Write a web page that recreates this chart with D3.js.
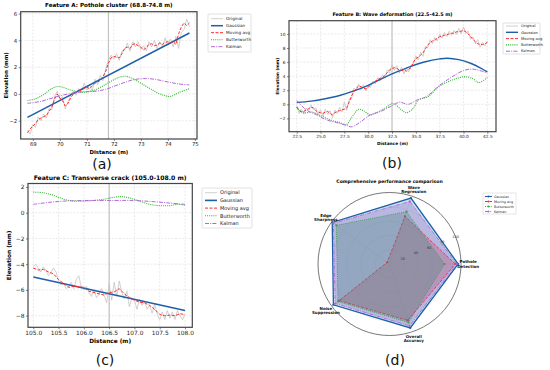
<!DOCTYPE html>
<html>
<head>
<script src="https://d3js.org/d3.v7.min.js"></script>
<style>
body { margin: 0; background: #fff; }
svg text { font-family: "DejaVu Sans", sans-serif; }
</style>
</head>
<body>
<script>
// ---------- data ----------
var seriesNames = ["Original", "Gaussian", "Moving avg", "Butterworth", "Kalman"];

// Feature A: sampled every 0.1 m from 68.8
var aStart = 68.8, aStep = 0.1;
var aOriginal = [-2.7,-3.0,-2.3,-2.5,-1.7,-2.0,-1.5,-1.8,-1.1,-1.2,
  -0.2,0.2,-0.4,-0.2,-1.1,-0.6,-0.1,0.2,-0.1,0.4,
  0.1,0.8,0.3,0.7,0.2,1.1,0.7,1.4,1.0,1.9,
  2.5,2.9,2.6,3.0,2.5,3.2,3.3,3.8,3.2,3.9,
  3.5,3.9,3.3,3.6,3.2,3.9,3.5,4.0,3.4,3.9,
  3.5,4.2,3.6,4.1,3.5,4.3,3.4,4.6,4.8,5.6,5.0];
var aMoving = [-2.9,-2.6,-2.4,-2.2,-1.9,-1.8,-1.7,-1.6,-1.3,-1.0,
  -0.4,0.0,-0.3,-0.5,-0.9,-0.7,-0.3,0.0,0.1,0.2,
  0.3,0.4,0.5,0.4,0.6,0.8,0.9,1.0,1.3,1.7,
  2.3,2.7,2.8,2.75,2.7,3.0,3.4,3.5,3.4,3.7,
  3.75,3.6,3.5,3.3,3.45,3.7,3.75,3.6,3.65,3.8,
  3.7,3.85,3.9,3.8,3.9,3.7,4.5,5.0,5.3,5.1,5.3];
var aGaussX = [68.8, 74.8];
var aGaussY = [-1.75, 4.55];
var aButterX = [68.8,69.1,69.4,69.7,69.9,70.1,70.4,70.7,71.0,71.3,71.6,71.9,72.2,72.45,72.7,73.0,73.3,73.6,73.9,74.1,74.4,74.8];
var aButterY = [-0.5,-0.35,-0.05,0.4,0.55,0.5,0.3,0.15,0.15,0.3,0.6,0.95,1.25,1.32,1.15,0.8,0.45,0.1,-0.12,-0.18,0.1,0.4];
var aKalmanX = [68.8,69.3,69.8,70.3,70.8,71.3,71.7,72.2,72.7,73.1,73.5,74.0,74.4,74.8];
var aKalmanY = [-0.7,-0.55,-0.25,0.0,0.15,0.2,0.35,0.72,1.05,1.15,1.1,0.9,0.75,0.68];

// Feature B: sampled every 0.25 m from 22.5
var bStart = 22.5, bStep = 0.25;
var bOriginal = [-0.2,-1.3,-0.7,-1.4,-0.5,-0.9,-0.1,-0.8,-0.5,-1.5,-0.8,-1.7,-0.7,-1.4,-0.9,-1.9,-0.8,-1.3,-0.4,-1.1,0.3,
  -0.9,0.7,0.8,2.3,1.9,2.9,2.1,2.8,1.9,2.7,2.4,3.3,2.9,3.8,3.3,4.2,3.7,4.9,4.4,5.6,
  4.8,5.5,4.4,5.3,4.3,5.2,4.6,5.6,5.7,6.9,6.3,7.4,6.8,8.2,8.0,9.2,8.6,9.5,9.0,10.0,
  9.4,10.2,9.6,10.4,9.8,10.5,9.9,10.8,10.0,11.0,10.1,10.4,9.3,9.6,8.6,9.2,8.1,8.8,8.3,9.0];
var bMoving = [-0.4,-0.9,-1.1,-1.0,-0.8,-0.6,-0.4,-0.5,-0.9,-1.1,-1.2,-1.3,-1.1,-1.0,-1.3,-1.5,-1.2,-1.0,-0.9,-0.8,-0.7,
  -0.5,0.3,1.2,1.8,2.3,2.6,2.5,2.3,2.2,2.4,2.8,3.0,3.3,3.5,3.7,3.8,4.1,4.5,4.9,5.1,
  5.2,5.1,4.9,4.8,4.9,4.7,5.0,5.2,6.0,6.5,6.7,7.0,7.3,7.9,8.4,8.8,9.0,9.1,9.4,9.6,
  9.7,9.8,9.9,10.0,10.1,10.1,10.3,10.3,10.4,10.5,10.3,10.0,9.6,9.2,8.9,8.6,8.5,8.5,8.6,8.8];
var bGaussX = [22.5,24,25.5,27,28.5,30,31.5,33,34.5,36,37.5,38.3,39.5,40.8,41.8,42.5];
var bGaussY = [0.25,0.45,0.8,1.25,1.9,2.7,3.7,4.6,5.4,6.05,6.45,6.55,6.35,5.8,5.15,4.6];
var bButterX = [22.5,23.2,24.1,25.0,26.0,27.0,27.7,28.3,29.0,29.5,30.2,31.0,31.8,32.6,33.5,34.0,34.7,35.25,36.3,37.4,38.8,40.0,40.9,41.6,42.5];
var bButterY = [-0.4,-1.2,-1.1,-1.6,-2.2,-2.6,-2.9,-1.8,-0.7,-0.9,-1.5,-1.1,-0.5,0.1,-0.8,-1.2,-0.6,0.6,1.1,2.5,3.45,3.9,3.7,3.1,3.8];
var bKalmanX = [22.5,23.5,24.6,25.6,26.7,27.75,28.3,29.3,30.2,31.25,32.3,33.3,34.2,35.1,36.1,37.5,38.8,40.0,40.9,41.7,42.5];
var bKalmanY = [0.55,-0.8,-1.5,-2.2,-2.6,-3.0,-3.2,-2.4,-1.5,-1.05,-0.35,0.3,0.0,0.6,1.1,2.7,3.9,4.8,5.0,4.8,4.45];

// Feature C: original every 0.05 m, moving avg every 0.1 m
var cStart = 105.0, cOrigStep = 0.05, cMovStep = 0.1;
var cOriginal = [-4.2,-4.0,-4.3,-4.6,-4.2,-4.5,-4.9,-4.6,-4.3,-4.6,
  -5.3,-5.6,-5.5,-5.9,-5.7,-5.4,-5.9,-5.2,-4.9,-5.8,
  -6.0,-5.7,-6.2,-6.5,-6.0,-6.6,-6.3,-5.9,-6.4,-7.0,
  -5.5,-6.8,-5.4,-6.5,-5.3,-6.2,-6.7,-6.1,-7.3,-6.6,
  -6.8,-7.5,-6.7,-7.2,-6.9,-7.5,-7.2,-7.8,-7.1,-7.9,
  -8.3,-7.7,-8.3,-7.6,-8.2,-7.7,-8.3,-7.6,-8.0,-8.3,-7.9];
var cMoving = [-4.3,-4.45,-4.4,-4.6,-4.75,-5.2,-5.5,-5.8,-5.7,-5.75,
  -5.8,-6.1,-6.2,-6.3,-6.4,-6.2,-6.15,-5.9,-6.3,-6.6,
  -6.8,-6.95,-7.0,-7.2,-7.5,-7.9,-8.0,-7.95,-8.0,-7.85,-7.9];
var cGaussX = [105.0, 108.0];
var cGaussY = [-5.0, -7.6];
var cButterX = [105.0,105.2,105.4,105.6,105.8,106.0,106.2,106.4,106.6,106.75,106.9,107.1,107.3,107.5,107.7,107.85,108.0];
var cButterY = [1.6,1.55,1.35,1.05,0.9,0.9,0.95,1.05,1.2,1.25,1.15,0.9,0.65,0.55,0.55,0.65,0.6];
var cKalmanX = [105.0,105.3,105.6,106.0,106.5,107.0,107.4,107.7,108.0];
var cKalmanY = [0.65,0.8,0.9,0.95,0.95,0.95,0.85,0.75,0.65];

// radar
var radarAxes = ["Pothole|Detection", "Wave|Regression", "Edge|Sharpness", "Noise|Suppression", "Overall|Accuracy"];
var radarNames = ["Gaussian", "Moving avg", "Butterworth", "Kalman"];
var radarGaussian = [96, 97, 99, 97, 94];
var radarMoving = [92, 70, 4, 87, 83];
var radarButter = [77, 77, 92, 89, 86];
var radarKalman = [94, 92, 97, 94, 91];
var radarTicks = [20, 40, 60, 80, 100];

// ---------- styles ----------
var styles = {
  "Original":    { color: "#c4c4c4", width: 0.8, dash: null },
  "Gaussian":    { color: "#1f5fa8", width: 1.6, dash: null, fill: "#48a5c6" },
  "Moving avg":  { color: "#ff2a2a", width: 1.0, dash: "3,1.5", fill: "#c8463a" },
  "Butterworth": { color: "#2fb52f", width: 1.1, dash: "1,1.1", fill: "#1f9a55" },
  "Kalman":      { color: "#b069d8", width: 1.0, dash: "4,1.2,1,1.2", fill: "#9351bf" }
};

var svg = d3.select("body").append("svg").attr("width", 550).attr("height", 370);

function pairs(xs, ys) { return xs.map(function(d, i) { return [d, ys[i]]; }); }
function grid(start, step, ys) { return ys.map(function(v, i) { return [start + i * step, v]; }); }

var clipId = 0;
function linePanel(p) {
  var g = svg.append("g");
  var x = d3.scaleLinear().domain(p.xDomain).range([p.left, p.right]);
  var y = d3.scaleLinear().domain(p.yDomain).range([p.bottom, p.top]);

  // grid
  g.selectAll(".gx").data(p.xTicks).enter().append("line")
    .attr("x1", function(d) { return x(d); }).attr("x2", function(d) { return x(d); })
    .attr("y1", p.top).attr("y2", p.bottom)
    .attr("stroke", "#dcdcdc").attr("stroke-width", 0.6).attr("stroke-dasharray", "2,1.5");
  g.selectAll(".gy").data(p.yTicks).enter().append("line")
    .attr("y1", function(d) { return y(d); }).attr("y2", function(d) { return y(d); })
    .attr("x1", p.left).attr("x2", p.right)
    .attr("stroke", "#dcdcdc").attr("stroke-width", 0.6).attr("stroke-dasharray", "2,1.5");

  // feature centre marker
  g.append("line").attr("x1", x(p.center)).attr("x2", x(p.center))
    .attr("y1", p.top).attr("y2", p.bottom)
    .attr("stroke", "#c2c2c2").attr("stroke-width", 1.2);

  clipId++;
  svg.append("clipPath").attr("id", "clip" + clipId).append("rect")
    .attr("x", p.left).attr("y", p.top).attr("width", p.right - p.left).attr("height", p.bottom - p.top);
  var lines = g.append("g").attr("clip-path", "url(#clip" + clipId + ")");

  p.series.forEach(function(s) {
    var st = styles[s.name];
    var line = d3.line().x(function(d) { return x(d[0]); }).y(function(d) { return y(d[1]); })
      .curve(s.smooth ? d3.curveCatmullRom : d3.curveLinear);
    lines.append("path").datum(s.data)
      .attr("d", line).attr("fill", "none")
      .attr("stroke", st.color).attr("stroke-width", s.name === "Gaussian" ? p.gaussW : st.width)
      .attr("stroke-dasharray", st.dash);
  });

  // axes
  var ax = g.append("g").attr("transform", "translate(0," + p.bottom + ")")
    .call(d3.axisBottom(x).tickValues(p.xTicks).tickFormat(d3.format(p.xFmt)).tickSize(2).tickPadding(1.5));
  var ay = g.append("g").attr("transform", "translate(" + p.left + ",0)")
    .call(d3.axisLeft(y).tickValues(p.yTicks).tickFormat(function(d) { return d < 0 ? "\u2212" + (-d) : d; }).tickSize(2).tickPadding(1.5));
  [ax, ay].forEach(function(a) {
    a.select(".domain").remove();
    a.selectAll("line").attr("stroke", "#333").attr("stroke-width", 0.6);
    a.selectAll("text").attr("font-size", p.tickFont).attr("fill", "#222")
      .attr("font-family", "DejaVu Sans, sans-serif");
  });

  g.append("rect").attr("x", p.left).attr("y", p.top)
    .attr("width", p.right - p.left).attr("height", p.bottom - p.top)
    .attr("fill", "none").attr("stroke", "#444").attr("stroke-width", 1.2);

  // titles
  g.append("text").attr("x", (p.left + p.right) / 2).attr("y", p.titleY)
    .attr("text-anchor", "middle").attr("font-weight", "bold").attr("font-size", p.titleFont)
    .text(p.title);
  g.append("text").attr("x", (p.left + p.right) / 2).attr("y", p.xLabelY)
    .attr("text-anchor", "middle").attr("font-weight", "bold").attr("font-size", p.labelFont)
    .text("Distance (m)");
  g.append("text").attr("transform", "translate(" + p.yLabelX + "," + ((p.top + p.bottom) / 2) + ") rotate(-90)")
    .attr("text-anchor", "middle").attr("font-weight", "bold").attr("font-size", p.labelFont)
    .text("Elevation (mm)");

  // legend
  var L = p.legend;
  g.append("rect").attr("x", L.x).attr("y", L.y).attr("width", L.w).attr("height", L.h)
    .attr("fill", "#fff").attr("stroke", "#ccc").attr("stroke-width", 0.6).attr("rx", 1);
  seriesNames.forEach(function(n, i) {
    var st = styles[n];
    var ry = L.y + L.first + i * L.gap;
    g.append("line").attr("x1", L.x + 3).attr("x2", L.x + 3 + L.len).attr("y1", ry).attr("y2", ry)
      .attr("stroke", st.color).attr("stroke-width", n === "Gaussian" ? p.gaussW : st.width)
      .attr("stroke-dasharray", st.dash);
    g.append("text").attr("x", L.x + 6 + L.len).attr("y", ry).attr("dy", "0.35em")
      .attr("font-size", L.font).attr("fill", "#222").text(n);
  });
}

linePanel({
  left: 20.7, right: 197, top: 11.7, bottom: 139,
  xDomain: [68.55, 75.08], yDomain: [-3.36, 6.14],
  xTicks: [69, 70, 71, 72, 73, 74, 75], xFmt: "d", yTicks: [-2, 0, 2, 4, 6],
  center: 71.8, gaussW: 1.5,
  tickFont: 5.4, titleFont: 5.6, labelFont: 5.4,
  title: "Feature A: Pothole cluster (68.8-74.8 m)", titleY: 7.2, xLabelY: 154, yLabelX: 7.5,
  legend: { x: 208, y: 14, w: 43, h: 38, first: 4.7, gap: 7, len: 12, font: 4.2 },
  series: [
    { name: "Original", data: grid(aStart, aStep, aOriginal) },
    { name: "Gaussian", data: pairs(aGaussX, aGaussY) },
    { name: "Moving avg", data: grid(aStart, aStep, aMoving) },
    { name: "Butterworth", data: pairs(aButterX, aButterY), smooth: true },
    { name: "Kalman", data: pairs(aKalmanX, aKalmanY), smooth: true }
  ]
});

linePanel({
  left: 289, right: 496, top: 20.7, bottom: 131.7,
  xDomain: [21.69, 43.41], yDomain: [-3.89, 11.88],
  xTicks: [22.5, 25, 27.5, 30, 32.5, 35, 37.5, 40, 42.5], xFmt: ".1f", yTicks: [-2, 0, 2, 4, 6, 8, 10],
  center: 32.5, gaussW: 1.4,
  tickFont: 4.3, titleFont: 4.9, labelFont: 4.3,
  title: "Feature B: Wave deformation (22.5-42.5 m)", titleY: 16, xLabelY: 145, yLabelX: 279,
  legend: { x: 503, y: 23, w: 37, h: 31, first: 3, gap: 6.3, len: 12, font: 3.7 },
  series: [
    { name: "Original", data: grid(bStart, bStep, bOriginal) },
    { name: "Gaussian", data: pairs(bGaussX, bGaussY), smooth: true },
    { name: "Moving avg", data: grid(bStart, bStep, bMoving) },
    { name: "Butterworth", data: pairs(bButterX, bButterY), smooth: true },
    { name: "Kalman", data: pairs(bKalmanX, bKalmanY), smooth: true }
  ]
});

linePanel({
  left: 28, right: 192.3, top: 183.5, bottom: 327.3,
  xDomain: [104.895, 108.144], yDomain: [-8.9, 2.27],
  xTicks: [105, 105.5, 106, 106.5, 107, 107.5, 108], xFmt: ".1f", yTicks: [-8, -6, -4, -2, 0, 2],
  center: 106.5, gaussW: 1.6,
  tickFont: 5.9, titleFont: 6.1, labelFont: 5.8,
  title: "Feature C: Transverse crack (105.0-108.0 m)", titleY: 179.5, xLabelY: 343, yLabelX: 11,
  legend: { x: 202, y: 188, w: 50, h: 40, first: 4.7, gap: 7.7, len: 12, font: 5.0 },
  series: [
    { name: "Original", data: grid(cStart, cOrigStep, cOriginal) },
    { name: "Gaussian", data: pairs(cGaussX, cGaussY) },
    { name: "Moving avg", data: grid(cStart, cMovStep, cMoving) },
    { name: "Butterworth", data: pairs(cButterX, cButterY), smooth: true },
    { name: "Kalman", data: pairs(cKalmanX, cKalmanY), smooth: true }
  ]
});

// ---------- radar ----------
var cx = 389.5, cy = 264, R = 71.5;
var rg = svg.append("g");
var r = d3.scaleLinear().domain([0, 100]).range([0, R]);
var angle = d3.scaleLinear().domain([0, radarAxes.length]).range([0, 2 * Math.PI]);
function pt(i, v) {
  var a = angle(i);
  return [cx + r(v) * Math.cos(a), cy - r(v) * Math.sin(a)];
}

radarTicks.forEach(function(t) {
  rg.append("circle").attr("cx", cx).attr("cy", cy).attr("r", r(t)).attr("fill", "none")
    .attr("stroke", t === 100 ? "#555" : "#e2e2e2").attr("stroke-width", t === 100 ? 0.8 : 0.5);
});
radarAxes.forEach(function(a, i) {
  var p = pt(i, 100);
  rg.append("line").attr("x1", cx).attr("y1", cy).attr("x2", p[0]).attr("y2", p[1])
    .attr("stroke", "#e2e2e2").attr("stroke-width", 0.5);
});

var radarData = [radarGaussian, radarMoving, radarButter, radarKalman];
var radarLine = d3.lineRadial().angle(function(d, i) { return Math.PI / 2 - angle(i); })
  .radius(function(d) { return r(d); }).curve(d3.curveLinearClosed);
radarData.forEach(function(vals, k) {
  var st = styles[radarNames[k]];
  rg.append("path").datum(vals).attr("transform", "translate(" + cx + "," + cy + ")")
    .attr("d", radarLine).attr("fill", st.fill).attr("fill-opacity", 0.3)
    .attr("stroke", st.color).attr("stroke-width", k === 0 ? 1.3 : 0.9)
    .attr("stroke-dasharray", k === 0 ? null : st.dash);
  vals.forEach(function(v, i) {
    var p = pt(i, v);
    rg.append("circle").attr("cx", p[0]).attr("cy", p[1]).attr("r", 1.1).attr("fill", st.color);
  });
});

radarTicks.forEach(function(t) {
  var a = Math.PI / 8;
  rg.append("text").attr("x", cx + r(t) * Math.cos(a)).attr("y", cy - r(t) * Math.sin(a))
    .attr("text-anchor", "middle").attr("dy", "0.35em").attr("font-size", 3.4).attr("fill", "#333").text(t);
});

radarAxes.forEach(function(lab, i) {
  var p = pt(i, 110);
  var parts = lab.split("|");
  var t = rg.append("text").attr("x", p[0]).attr("y", p[1] - 2).attr("text-anchor", "middle")
    .attr("font-size", 4.0).attr("font-weight", "bold").attr("fill", "#111");
  parts.forEach(function(s, j) {
    t.append("tspan").attr("x", p[0]).attr("dy", j === 0 ? "0.35em" : "1.05em").text(s);
  });
});

rg.append("text").attr("x", cx).attr("y", 183).attr("text-anchor", "middle")
  .attr("font-size", 4.6).attr("font-weight", "bold").text("Comprehensive performance comparison");

// radar legend
rg.append("rect").attr("x", 483).attr("y", 193).attr("width", 33).attr("height", 21)
  .attr("fill", "#fff").attr("stroke", "#ccc").attr("stroke-width", 0.5);
radarNames.forEach(function(n, i) {
  var st = styles[n];
  var ry = 196.5 + i * 5;
  rg.append("line").attr("x1", 485).attr("x2", 492).attr("y1", ry).attr("y2", ry)
    .attr("stroke", st.color).attr("stroke-width", 1.1).attr("stroke-dasharray", i === 0 ? null : st.dash);
  rg.append("circle").attr("cx", 488.5).attr("cy", ry).attr("r", 1).attr("fill", st.color);
  rg.append("text").attr("x", 494).attr("y", ry).attr("dy", "0.35em").attr("font-size", 3.3).attr("fill", "#222").text(n);
});

// subfigure labels
[["(a)", 102, 169], ["(b)", 392, 168], ["(c)", 105, 365], ["(d)", 395, 365]].forEach(function(l) {
  svg.append("text").attr("x", l[1]).attr("y", l[2]).attr("text-anchor", "middle")
    .attr("font-family", "Liberation Sans, Arial, sans-serif").attr("font-size", 14).attr("fill", "#111").text(l[0]);
});
</script>
</body>
</html>
